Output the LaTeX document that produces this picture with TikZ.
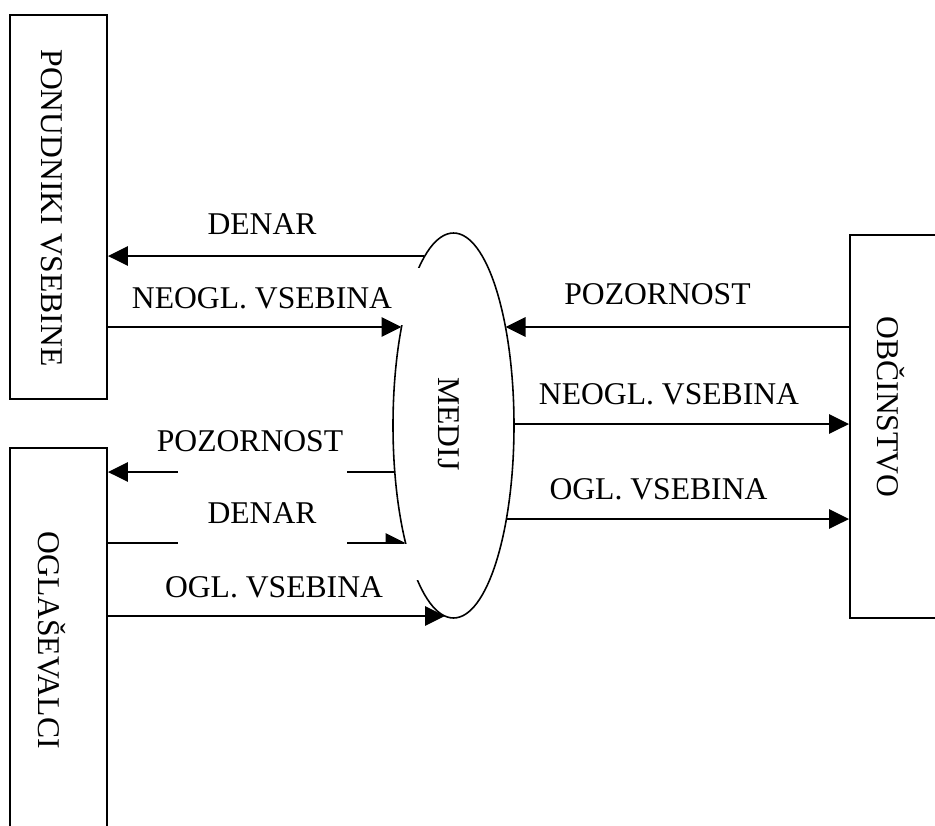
\documentclass[tikz,border=0pt]{standalone}
\usepackage{fontspec}
\setmainfont{Liberation Serif}
\usetikzlibrary{arrows.meta,shapes.geometric}

\tikzset{
  lbl/.style={font=\fontsize{18}{21}\selectfont, inner sep=0pt},
  party/.style={draw, line width=1.1pt, minimum width=1.94cm, inner sep=0pt},
  flow/.style={-{Triangle[length=4mm,width=3.9mm]}, line width=0.8pt}
}

\begin{document}
\begin{tikzpicture}
    \useasboundingbox (0,0) rectangle (18.7,-16.5);
    \clip (0,0) rectangle (18.7,-16.5);

    % Parties
    \node[party, minimum height=7.68cm] (ponudniki) at (1.17,-4.14) {};
    \node[party, minimum height=7.68cm] (ogla) at (1.17,-12.8) {};
    \node[party, minimum width=2.1cm, minimum height=7.66cm] (obcinstvo) at (18.05,-8.53) {};
    \node[lbl, rotate=-90] (tponudniki) at (1.04,-4.16) {PONUDNIKI VSEBINE};
    \node[lbl, rotate=-90] (togla) at (1.04,-12.8) {OGLAŠEVALCI};
    \node[lbl, rotate=-90] (tobcinstvo) at (17.82,-8.14) {OBČINSTVO};

    % Medium
    \node[ellipse, draw, line width=0.9pt, minimum width=2.42cm, minimum height=7.7cm, inner sep=0pt] (medij) at (9.07,-8.51) {};
    \node[lbl, rotate=-90] (tmedij) at (8.98,-8.48) {MEDIJ};

    % points on the edge of the medium
    \coordinate (e1) at (8.48,-5.12);
    \coordinate (e2) at (8.03,-6.54);
    \coordinate (e3) at (10.11,-6.54);
    \coordinate (e4) at (10.28,-8.48);
    \coordinate (e5) at (10.13,-10.38);
    \coordinate (e6) at (7.90,-9.44);
    \coordinate (e7) at (8.11,-10.86);
    \coordinate (e8) at (8.90,-12.32);

    % Advertisers, under their labels
    \draw[flow] (e6) -- (ogla.east |- e6);
    \draw[flow] (ogla.east |- e7) -- (e7);

    % label boxes
    \fill[white] (7.9,-5.36) rectangle (8.55,-6.5);
    \fill[white] (7.6,-10.875) rectangle (8.5,-11.6);
    \fill[white] (3.56,-9.3) rectangle (6.94,-9.6);
    \fill[white] (3.56,-10.7) rectangle (6.94,-11.0);

    % Content providers
    \draw[flow] (e1) -- (ponudniki.east |- e1);
    \draw[flow] (ponudniki.east |- e2) -- (e2);
    \node[lbl] (l1) at (5.24,-4.48) {DENAR};
    \node[lbl] (l2) at (5.24,-5.96) {NEOGL. VSEBINA};

    % Advertisers
    \draw[flow] (ogla.east |- e8) -- (e8);
    \node[lbl] (l3) at (5.0,-8.82) {POZORNOST};
    \node[lbl] (l4) at (5.24,-10.26) {DENAR};
    \node[lbl] (l5) at (5.48,-11.74) {OGL. VSEBINA};

    % Audience
    \draw[flow] (obcinstvo.west |- e3) -- (e3);
    \draw[flow] (e4) -- (obcinstvo.west |- e4);
    \draw[flow] (e5) -- (obcinstvo.west |- e5);
    \node[lbl] (l6) at (13.15,-5.88) {POZORNOST};
    \node[lbl] (l7) at (13.38,-7.88) {NEOGL. VSEBINA};
    \node[lbl] (l8) at (13.17,-9.78) {OGL. VSEBINA};
\end{tikzpicture}
\end{document}
